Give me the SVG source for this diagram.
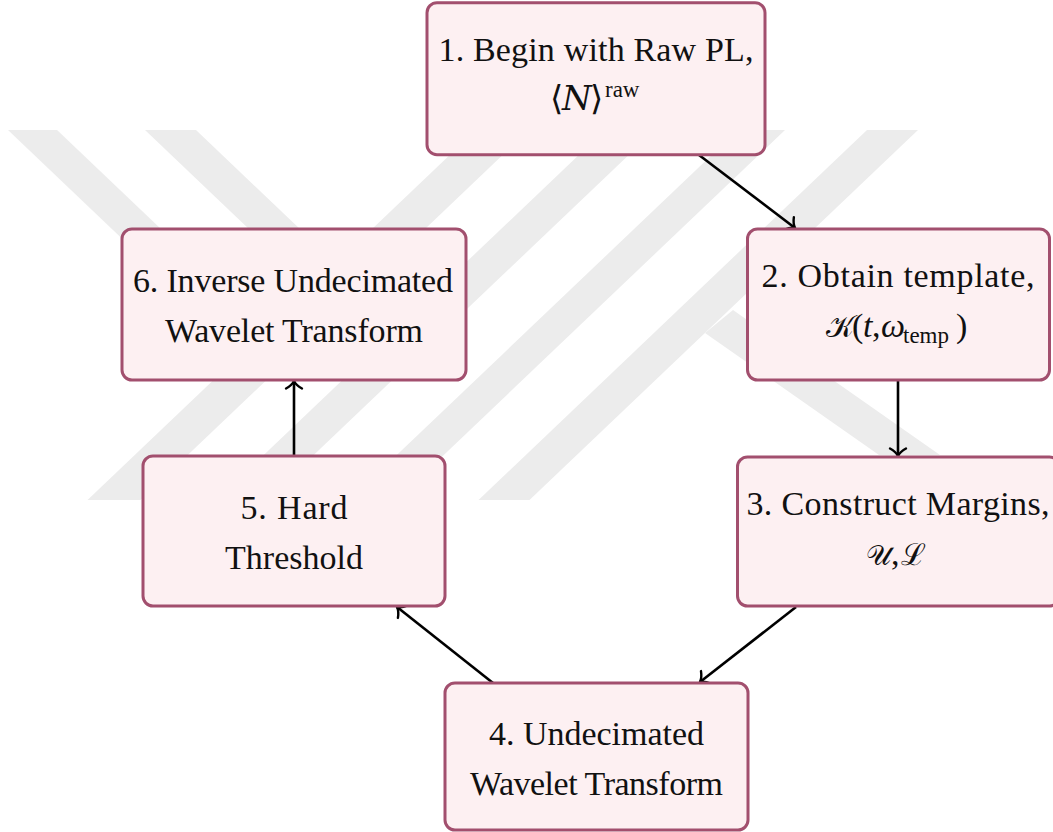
<svg xmlns="http://www.w3.org/2000/svg" width="1053" height="832" viewBox="0 0 1053 832">
<style>
.box{fill:#fdf0f2;stroke:#a24f6e;stroke-width:3}
text{fill:#111;font-size:34px}
.t{text-anchor:middle}
.wm{fill:#ececec}
.conn{stroke:#000;stroke-width:2.6;fill:none}
</style>
<defs>
<marker id="arr" markerUnits="userSpaceOnUse" orient="auto" markerWidth="20" markerHeight="20" viewBox="-10 -10 20 20" refX="0" refY="0" overflow="visible">
<path d="M -7.5,-8 C -5,-3.5 -2,-1 0,0 C -2,1 -5,3.5 -7.5,8" fill="none" stroke="#000" stroke-width="2.4" stroke-linecap="round"/>
</marker>
</defs>
<rect width="1053" height="832" fill="#fff"/>
<g id="watermark">
<polygon class="wm" points="8,130 57,130 235.5,300 186.5,300"/>
<polygon class="wm" points="145,130 196,130 374.5,300 323.5,300"/>
<polygon class="wm" points="476,130 529,130 140.5,500 87.5,500"/>
<polygon class="wm" points="605,130 655,130 266.5,500 216.5,500"/>
<polygon class="wm" points="738,130 785,130 396.5,500 349.5,500"/>
<polygon class="wm" points="867,130 918,130 529.5,500 478.5,500"/>
<polygon class="wm" points="733,310 940,455 879,455 705,333"/>
</g>
<g id="connectors">
<line class="conn" x1="699" y1="155" x2="795" y2="228" marker-end="url(#arr)"/>
<line class="conn" x1="898" y1="381" x2="898" y2="456" marker-end="url(#arr)"/>
<line class="conn" x1="796" y1="607" x2="700" y2="682" marker-end="url(#arr)"/>
<line class="conn" x1="493" y1="683" x2="397" y2="607" marker-end="url(#arr)"/>
<line class="conn" x1="294" y1="456" x2="294" y2="381" marker-end="url(#arr)"/>
</g>
<g id="node1">
<rect class="box" x="427" y="2.7" width="338" height="152" rx="10"/>
<text class="t" x="596" y="61" textLength="315" font-family="Liberation Serif">1. Begin with Raw PL,</text>
<text y="110" font-family="DejaVu Serif"><tspan x="550">⟨</tspan><tspan x="562" font-style="italic">N</tspan><tspan x="590">⟩</tspan><tspan x="605" y="97" font-size="23" font-family="Liberation Serif">raw</tspan></text>
</g>
<g id="node2">
<rect class="box" x="747.5" y="229" width="302" height="151" rx="10"/>
<text class="t" x="898" y="287" textLength="273" font-family="Liberation Serif">2. Obtain template,</text>
<text y="337" font-family="Liberation Serif"><tspan x="826" font-size="30">𝒦</tspan><tspan x="852">(</tspan><tspan x="863" font-style="italic">t</tspan><tspan x="872">,</tspan><tspan x="881" font-style="italic">ω</tspan><tspan x="903" y="343" font-size="23">temp</tspan><tspan x="956" y="337">)</tspan></text>
</g>
<g id="node3">
<rect class="box" x="737.5" y="457" width="322" height="149" rx="10"/>
<text class="t" x="898" y="515" textLength="303" font-family="Liberation Serif">3. Construct Margins,</text>
<text y="565" font-family="Liberation Serif"><tspan x="866" font-size="28">𝒰</tspan><tspan x="891">,</tspan><tspan x="901" font-size="30">ℒ</tspan></text>
</g>
<g id="node4">
<rect class="box" x="445" y="683" width="303" height="147" rx="10"/>
<text class="t" x="596.5" y="745" textLength="215" font-family="Liberation Serif">4. Undecimated</text>
<text class="t" x="596.5" y="795" textLength="253" font-family="Liberation Serif">Wavelet Transform</text>
</g>
<g id="node5">
<rect class="box" x="143" y="456" width="302" height="150" rx="10"/>
<text class="t" x="294" y="519" textLength="107" font-family="Liberation Serif">5. Hard</text>
<text class="t" x="294" y="568.5" font-family="Liberation Serif">Threshold</text>
</g>
<g id="node6">
<rect class="box" x="122" y="229" width="344" height="151" rx="10"/>
<text class="t" x="293" y="292" textLength="320" font-family="Liberation Serif">6. Inverse Undecimated</text>
<text class="t" x="294" y="342" textLength="258" font-family="Liberation Serif">Wavelet Transform</text>
</g>
</svg>
